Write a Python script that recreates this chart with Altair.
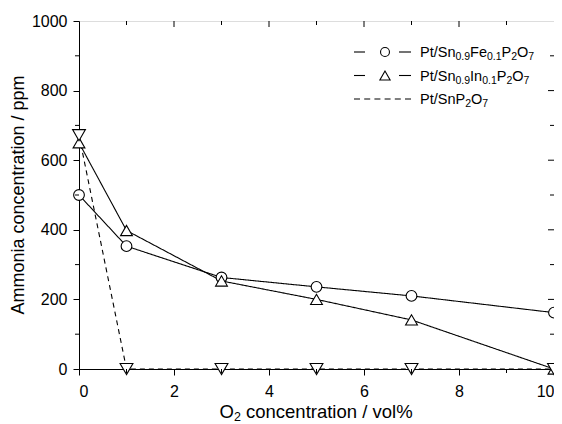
import altair as alt
import pandas as pd

# ---- data ----
o2 = [0, 1, 3, 5, 7, 10]
fe_vals = [500, 353, 263, 236, 210, 162]
in_vals = [650, 398, 253, 200, 141, 0]
sn_vals = [672, 0, 0, 0, 0, 0]
series_names = ["Pt/Sn0.9Fe0.1P2O7", "Pt/Sn0.9In0.1P2O7", "Pt/SnP2O7"]
series_shapes = ["circle", "triangle-up", "triangle-down"]
# legend labels split into (text, is_subscript) runs
legend_parts = [
    [("Pt/Sn", 0), ("0.9", 1), ("Fe", 0), ("0.1", 1), ("P", 0), ("2", 1), ("O", 0), ("7", 1)],
    [("Pt/Sn", 0), ("0.9", 1), ("In", 0), ("0.1", 1), ("P", 0), ("2", 1), ("O", 0), ("7", 1)],
    [("Pt/SnP", 0), ("2", 1), ("O", 0), ("7", 1)],
]
x_title_parts = [("O", 0), ("2", 1), (" concentration / vol%", 0)]
y_title = "Ammonia concentration / ppm"

x_major = [0, 2, 4, 6, 8, 10]
x_minor = [1, 3, 5, 7, 9]
y_major = [0, 200, 400, 600, 800, 1000]
y_minor = [100, 300, 500, 700, 900]

W, H = 475, 348
FONT = "Liberation Sans"

# Arial / Liberation Sans advance widths (per 1000 em)
AW = {"P": 667, "t": 278, "/": 278, "S": 667, "n": 556, "F": 611, "e": 556,
      "I": 278, "O": 778, ".": 278, " ": 278, "c": 500, "o": 556, "r": 333,
      "a": 556, "i": 222, "v": 500, "l": 222, "%": 889}
for d in "0123456789":
    AW[d] = 556


def tw(s, fs):
    return sum(AW.get(ch, 556) for ch in s) * fs / 1000.0


def runs(parts, x0, base_y, fs, sfs, drop):
    out = []
    x = x0
    for txt, sub in parts:
        f = sfs if sub else fs
        lead = len(txt) - len(txt.lstrip(" "))
        x += tw(" " * lead, f)
        body = txt.strip(" ")
        out.append({"tx": x, "ty": base_y + (drop if sub else 0), "txt": body, "fs": f})
        x += tw(body, f)
    return out


rows = []
for name, shp, vals in zip(series_names, series_shapes, [fe_vals, in_vals, sn_vals]):
    for x, y in zip(o2, vals):
        rows.append({"o2": x, "nh3": y, "series": name, "shape": shp})
df = pd.DataFrame(rows)

xs = alt.Scale(domain=[0, 10], nice=False, zero=False)
ys = alt.Scale(domain=[0, 1000], nice=False, zero=False)

base = alt.Chart(df)

lines = base.mark_line(color="black", strokeWidth=1.1).encode(
    x=alt.X("o2:Q", scale=xs, axis=alt.Axis(
        values=x_major, title=None, grid=False, format="d",
        tickSize=6, tickColor="black", domainColor="black",
        labelFont=FONT, labelFontSize=16, labelColor="black", labelPadding=8)),
    y=alt.Y("nh3:Q", scale=ys, axis=alt.Axis(
        values=y_major, title=None, grid=False, format="d",
        tickSize=6, tickColor="black", domainColor="black",
        labelFont=FONT, labelFontSize=16, labelColor="black", labelPadding=6)),
    strokeDash=alt.StrokeDash("series:N", scale=alt.Scale(
        domain=series_names, range=[[1, 0], [1, 0], [5, 4]]), legend=None),
    detail="series:N",
)

points = base.mark_point(filled=True, fill="white", stroke="black",
                         strokeWidth=1.1, opacity=1).encode(
    x=alt.X("o2:Q", scale=xs),
    y=alt.Y("nh3:Q", scale=ys),
    shape=alt.Shape("series:N", scale=alt.Scale(domain=series_names,
                                                 range=series_shapes), legend=None),
    size=alt.Size("series:N", scale=alt.Scale(domain=series_names,
                                               range=[115, 165, 165]), legend=None),
)

# minor / mirrored ticks
bottom_minor = alt.Chart(pd.DataFrame({"v": x_minor})).mark_rule(color="black").encode(
    x=alt.X("v:Q", scale=xs), y=alt.value(H), y2=alt.value(H + 4))
left_minor = alt.Chart(pd.DataFrame({"v": y_minor})).mark_rule(color="black").encode(
    y=alt.Y("v:Q", scale=ys), x=alt.value(0), x2=alt.value(-4))
top_major = alt.Chart(pd.DataFrame({"v": x_major[1:-1]})).mark_rule(color="black").encode(
    x=alt.X("v:Q", scale=xs), y=alt.value(0), y2=alt.value(6))
top_minor = alt.Chart(pd.DataFrame({"v": x_minor})).mark_rule(color="black").encode(
    x=alt.X("v:Q", scale=xs), y=alt.value(0), y2=alt.value(4))
right_major = alt.Chart(pd.DataFrame({"v": y_major[1:-1]})).mark_rule(color="black").encode(
    y=alt.Y("v:Q", scale=ys), x=alt.value(W), x2=alt.value(W - 6))
right_minor = alt.Chart(pd.DataFrame({"v": y_minor})).mark_rule(color="black").encode(
    y=alt.Y("v:Q", scale=ys), x=alt.value(W), x2=alt.value(W - 4))

# manual legend (pixel positions inside the plot area)
leg_y = [31, 54.5, 78]
seg = []
for i in range(2):
    seg.append({"x1": 275, "x2": 286, "ly": leg_y[i]})
    seg.append({"x1": 320, "x2": 332, "ly": leg_y[i]})
leg_solid = alt.Chart(pd.DataFrame(seg)).mark_rule(color="black", strokeWidth=1.1).encode(
    x=alt.X("x1:Q", scale=None), x2="x2:Q", y=alt.Y("ly:Q", scale=None))
leg_dash = alt.Chart(pd.DataFrame([{"x1": 275, "x2": 332, "ly": leg_y[2]}])).mark_rule(
    color="black", strokeWidth=1.1, strokeDash=[6, 4.2]).encode(
    x=alt.X("x1:Q", scale=None), x2="x2:Q", y=alt.Y("ly:Q", scale=None))
leg_sym = pd.DataFrame({"sx": [306, 306], "ly": leg_y[:2], "shape": series_shapes[:2],
                        "sz": [80, 105]})
leg_pts = alt.Chart(leg_sym).mark_point(
    filled=True, fill="white", stroke="black", strokeWidth=1.1, opacity=1).encode(
    x=alt.X("sx:Q", scale=None), y=alt.Y("ly:Q", scale=None),
    shape=alt.Shape("shape:N", scale=None), size=alt.Size("sz:Q", scale=None))

txt_rows = []
for parts, ly in zip(legend_parts, leg_y):
    txt_rows += runs(parts, 341, ly + 5.2, 14.5, 10.5, 3)
txt_rows += runs(x_title_parts, 140.5, H + 49, 18.5, 12.5, 3)
leg_txt = alt.Chart(pd.DataFrame(txt_rows)).mark_text(
    align="left", baseline="alphabetic", font=FONT, color="black").encode(
    x=alt.X("tx:Q", scale=None), y=alt.Y("ty:Q", scale=None), text="txt:N",
    size=alt.Size("fs:Q", scale=None))

ytitle = alt.Chart(pd.DataFrame({"t": [y_title]})).mark_text(
    angle=270, align="center", baseline="middle", font=FONT, fontSize=18,
    color="black").encode(x=alt.value(-60), y=alt.value(H / 2), text="t:N")

chart = alt.layer(
    lines, points, bottom_minor, left_minor, top_major, top_minor,
    right_major, right_minor, leg_solid, leg_dash, leg_pts, leg_txt, ytitle
).properties(
    width=W, height=H,
    autosize=alt.AutoSizeParams(type="none"),
    padding={"left": 71, "top": 13, "right": 0, "bottom": 55},
).configure_view(stroke="black", strokeWidth=1).configure(background="white")

chart.save("out.html", embed_options={"renderer": "svg", "actions": False})
